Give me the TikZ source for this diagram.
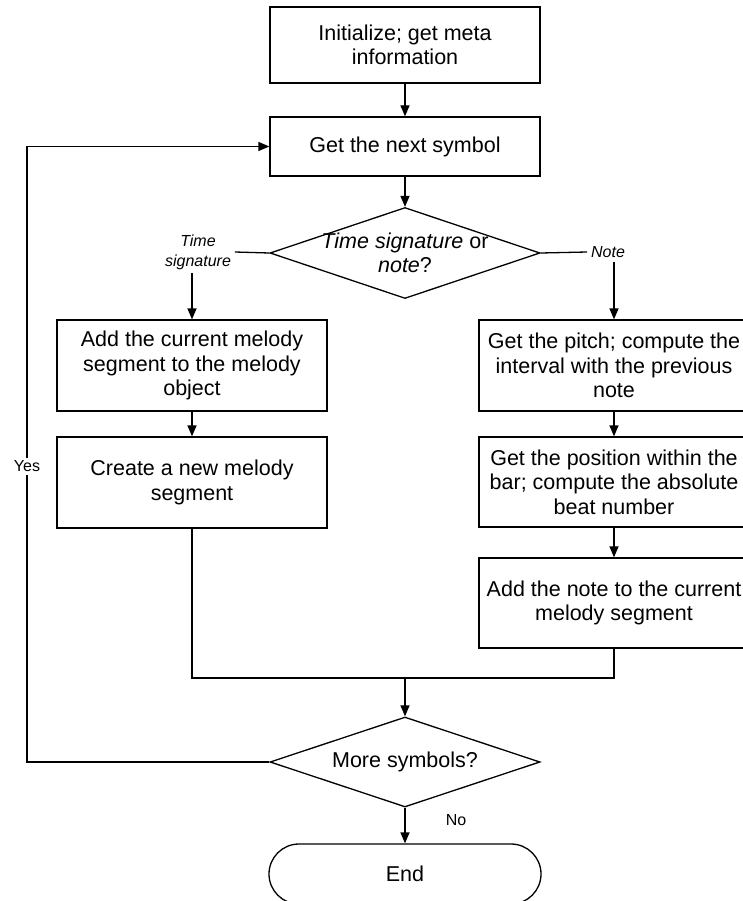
\documentclass[tikz,border=0pt]{standalone}
\usepackage{fontspec}
\setmainfont{Liberation Sans}
\usetikzlibrary{arrows.meta}
\usetikzlibrary{shapes.geometric}
\usetikzlibrary{shapes.misc}

\begin{document}
\begin{tikzpicture}[x=1pt,y=-1pt,line width=1.3pt,
    >={Triangle[length=11pt,width=9pt]},
    box/.style={draw,minimum width=270pt,inner sep=0pt,align=center,font=\fontsize{21.5}{24.5}\selectfont},
    decision/.style={draw,diamond,minimum width=270pt,minimum height=91pt,inner sep=0pt},
    bigtxt/.style={align=center,font=\fontsize{21.5}{24.5}\selectfont},
    lbl/.style={align=center,font=\fontsize{16}{20}\selectfont}]
    \useasboundingbox (0,0) rectangle (742,901);
    \node[box,minimum height=76pt] (init) at (405,45) {Initialize; get meta\\information};
    \node[box,minimum height=59pt] (next) at (405,146.5) {Get the next symbol};
    \node[decision,label={[bigtxt]center:\textit{Time signature} or\\\textit{note}?}] (q1) at (405,253) {};
    \node[lbl,font=\itshape\fontsize{16}{20}\selectfont] (tsig) at (198,252) {Time\\signature};
    \node[lbl,font=\itshape\fontsize{16}{20}\selectfont] (note) at (608,252) {Note};
    \node[box,minimum height=91pt] (addseg) at (192,365.5) {Add the current melody\\segment to the melody\\object};
    \node[box,minimum height=91pt] (newseg) at (192,482.5) {Create a new melody\\segment};
    \node[box,minimum height=91pt] (pitch) at (614,365.5) {Get the pitch; compute the\\interval with the previous\\note};
    \node[box,minimum height=90pt] (beat) at (614,482) {Get the position within the\\bar; compute the absolute\\beat number};
    \node[box,minimum height=90pt] (addnote) at (614,603) {Add the note to the current\\melody segment};
    \coordinate (merge) at (405,678);
    \node[decision,minimum height=90pt,label={[bigtxt]center:More symbols?}] (q2) at (405,762) {};
    \node[box,rounded rectangle,minimum width=272pt,minimum height=60pt] (end) at (405,874) {End};
    \coordinate (back) at (27,762);
    \node[lbl] (no) at (456,820) {No};
    \draw[->] (init) -- (next);
    \draw[->] (next) -- (q1);
    \draw (q1.west) -- (tsig.east);
    \draw (q1.east) -- (note.west);
    \draw[->] (tsig.south -| addseg.north) -- (addseg);
    \draw[->] (note.south -| pitch.north) -- (pitch);
    \draw[->] (addseg) -- (newseg);
    \draw[->] (pitch) -- (beat);
    \draw[->] (beat) -- (addnote);
    \draw (newseg.south) |- (merge) -| (addnote.south);
    \draw[->] (merge) -- (q2);
    \draw[->] (q2) -- (end);
    \draw[->] (q2.west) -- (back) |- node[pos=0.24,lbl,fill=white]{Yes} (next.west);
\end{tikzpicture}
\end{document}
